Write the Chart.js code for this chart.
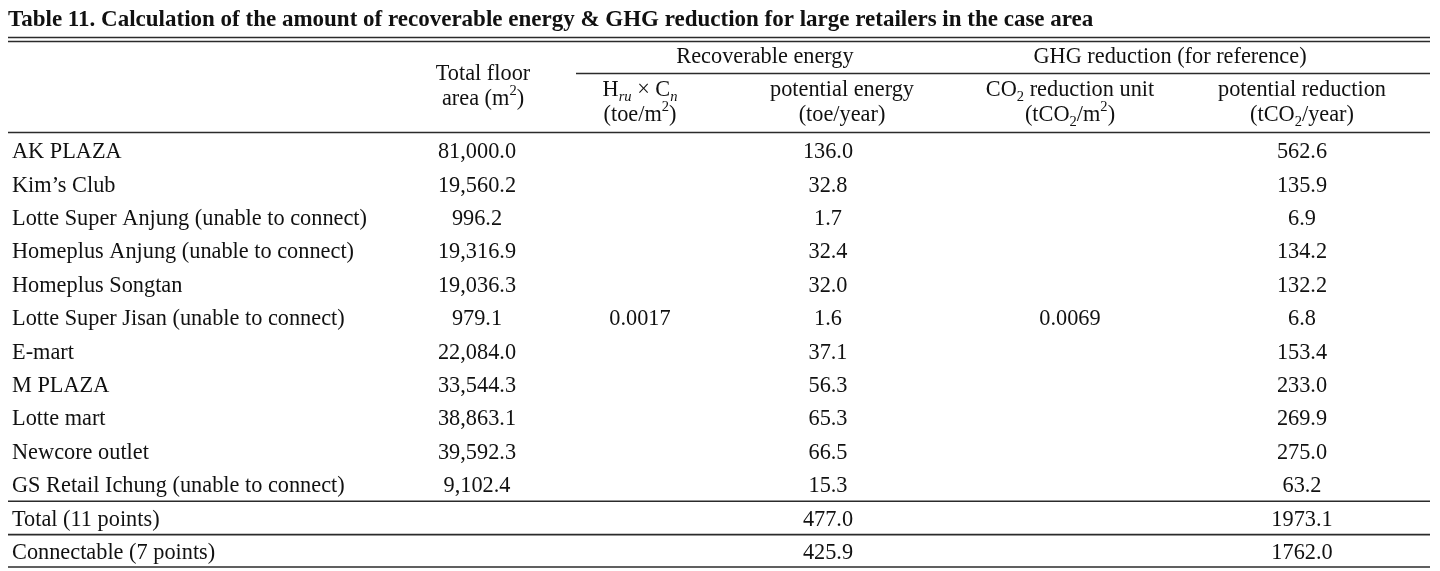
<!DOCTYPE html>
<html><head><meta charset="utf-8">
<script src="https://cdn.jsdelivr.net/npm/chart.js@4/dist/chart.umd.min.js"></script>
<style>html,body{margin:0;padding:0;background:#fff}#wrap{width:1440px;height:571px;position:relative}</style>
</head><body>
<div id="wrap"><canvas id="c" width="1440" height="571"></canvas></div>
<script>
// ---------------- data ----------------
const tableTitle = "Table 11. Calculation of the amount of recoverable energy & GHG reduction for large retailers in the case area";
const retailers = [
  "AK PLAZA", "Kim\u2019s Club", "Lotte Super Anjung (unable to connect)",
  "Homeplus Anjung (unable to connect)", "Homeplus Songtan",
  "Lotte Super Jisan (unable to connect)", "E-mart", "M PLAZA", "Lotte mart",
  "Newcore outlet", "GS Retail Ichung (unable to connect)"
];
const summaryRows = ["Total (11 points)", "Connectable (7 points)"];
const floorArea = [81000.0, 19560.2, 996.2, 19316.9, 19036.3, 979.1, 22084.0, 33544.3, 38863.1, 39592.3, 9102.4];
const energyUnit = [0.0017];
const potentialEnergy = [136.0, 32.8, 1.7, 32.4, 32.0, 1.6, 37.1, 56.3, 65.3, 66.5, 15.3];
const co2Unit = [0.0069];
const potentialReduction = [562.6, 135.9, 6.9, 134.2, 132.2, 6.8, 153.4, 233.0, 269.9, 275.0, 63.2];
const summaryEnergy = [477.0, 425.9];
const summaryReduction = [1973.1, 1762.0];
const groupHeaders = ["Recoverable energy", "GHG reduction (for reference)"];

// ---------------- layout / style ----------------
const L = {
  font: "'Liberation Serif','Times New Roman',Times,serif",
  size: 23, sx: 0.97, titleSize: 23, titleSx: 1.0,
  color: "#111", rule: "#2b2b2b",
  colX: [477, 640, 828, 1070, 1302],        // value column centres (x-scale units)
  headX: [483, 640, 842, 1070, 1302],       // sub-header centres
  groupX: [765, 1170],
  labelX: 12, left: 8, right: 1430, groupRuleStart: 576
};
const rowLabels = retailers.concat(summaryRows);
const fmtArea = v => v.toLocaleString('en-US', {minimumFractionDigits: 1, maximumFractionDigits: 1});
const fmt1 = v => v.toFixed(1);
const fmt4 = v => v.toFixed(4);

function ds(col, values, rows, fmt) {
  return { data: values.map((v, i) => ({ x: L.colX[col], y: rows[i] })), values, fmt,
           pointRadius: 0, showLine: false };
}
const midRow = [retailers[Math.floor(retailers.length / 2)]];
const datasets = [
  ds(0, floorArea, retailers, fmtArea),
  ds(1, energyUnit, midRow, fmt4),
  ds(2, potentialEnergy, retailers, fmt1),
  ds(2, summaryEnergy, summaryRows, fmt1),
  ds(3, co2Unit, midRow, fmt4),
  ds(4, potentialReduction, retailers, fmt1),
  ds(4, summaryReduction, summaryRows, fmt1)
];

function txt(ctx, s, x, y, align, size, sx, bold, italic) {
  ctx.save();
  ctx.font = (italic ? 'italic ' : '') + (bold ? 'bold ' : '') + size + 'px ' + L.font;
  ctx.fillStyle = L.color; ctx.textBaseline = 'alphabetic';
  ctx.translate(x, y); ctx.scale(sx, 1);
  ctx.textAlign = align;
  ctx.fillText(s, 0, 0);
  ctx.restore();
}
// rich text: segments [text, mode] mode: '', 'sub', 'sup', 'isub'
function rich(ctx, segs, cx, y) {
  const base = L.size, small = Math.round(L.size * 0.66);
  const pieces = segs.map(([t, m]) => {
    const sz = m ? small : base;
    ctx.font = (m === 'isub' ? 'italic ' : '') + sz + 'px ' + L.font;
    return { t, m, sz, w: ctx.measureText(t).width * L.sx };
  });
  const total = pieces.reduce((a, p) => a + p.w, 0);
  let x = cx - total / 2;
  pieces.forEach(p => {
    const dy = p.m === 'sup' ? -base * 0.42 : (p.m === 'sub' || p.m === 'isub') ? base * 0.22 : 0;
    txt(ctx, p.t, x, y + dy, 'left', p.sz, L.sx, false, p.m === 'isub');
    x += p.w;
  });
}
function hline(ctx, x1, x2, y, w) {
  ctx.save(); ctx.strokeStyle = L.rule; ctx.lineWidth = w || 1.5;
  ctx.beginPath(); ctx.moveTo(x1, y); ctx.lineTo(x2, y); ctx.stroke(); ctx.restore();
}

const tablePlugin = {
  id: 'tableText',
  afterDatasetsDraw(chart) {
    const ctx = chart.ctx, xs = chart.scales.x, ys = chart.scales.y;
    const X = v => xs.getPixelForValue(v);
    // title
    txt(ctx, tableTitle, L.left, 26, 'left', L.titleSize, L.titleSx, true);
    hline(ctx, X(L.left), X(L.right), 37.5, 1.6);
    hline(ctx, X(L.left), X(L.right), 41.5, 1.6);
    // group headers
    txt(ctx, groupHeaders[0], X(L.groupX[0]), 63, 'center', L.size, L.sx);
    txt(ctx, groupHeaders[1], X(L.groupX[1]), 63, 'center', L.size, L.sx);
    hline(ctx, X(L.groupRuleStart), X(L.right), 73.5, 1.5);
    // column headers
    const hx = L.headX.map(X);
    rich(ctx, [["Total floor", '']], hx[0], 80);
    rich(ctx, [["area (m", ''], ["2", 'sup'], [")", '']], hx[0], 105);
    rich(ctx, [["H", ''], ["ru", 'isub'], [" \u00d7 C", ''], ["n", 'isub']], hx[1], 96);
    rich(ctx, [["(toe/m", ''], ["2", 'sup'], [")", '']], hx[1], 121);
    rich(ctx, [["potential energy", '']], hx[2], 96);
    rich(ctx, [["(toe/year)", '']], hx[2], 121);
    rich(ctx, [["CO", ''], ["2", 'sub'], [" reduction unit", '']], hx[3], 96);
    rich(ctx, [["(tCO", ''], ["2", 'sub'], ["/m", ''], ["2", 'sup'], [")", '']], hx[3], 121);
    rich(ctx, [["potential reduction", '']], hx[4], 96);
    rich(ctx, [["(tCO", ''], ["2", 'sub'], ["/year)", '']], hx[4], 121);
    hline(ctx, X(L.left), X(L.right), chart.chartArea.top - 1.5, 1.6);
    // row labels
    const off = L.size * 0.33;
    rowLabels.forEach((r, i) => txt(ctx, r, X(L.labelX), ys.getPixelForValue(i) + off, 'left', L.size, L.sx));
    // separators between retailer block / total / connectable and bottom
    const bnd = i => (ys.getPixelForValue(i) + ys.getPixelForValue(i + 1)) / 2;
    hline(ctx, X(L.left), X(L.right), bnd(retailers.length - 1), 1.6);
    hline(ctx, X(L.left), X(L.right), bnd(retailers.length), 1.6);
    hline(ctx, X(L.left), X(L.right), chart.chartArea.bottom - 1, 1.6);
    // cell values from dataset elements
    chart.data.datasets.forEach((d, di) => {
      chart.getDatasetMeta(di).data.forEach((el, j) => {
        txt(ctx, d.fmt(d.values[j]), el.x, el.y + off, 'center', L.size, L.sx);
      });
    });
  }
};

new Chart(document.getElementById('c'), {
  type: 'scatter',
  data: { datasets },
  options: {
    responsive: false, animation: false, events: [],
    layout: { padding: { top: 134, bottom: 3, left: 0, right: 0 } },
    plugins: { legend: { display: false }, tooltip: { enabled: false } },
    scales: {
      x: { type: 'linear', min: 0, max: 1440, display: false },
      y: { type: 'category', labels: rowLabels, offset: true, display: false }
    }
  },
  plugins: [tablePlugin]
});
</script>
</body></html>
